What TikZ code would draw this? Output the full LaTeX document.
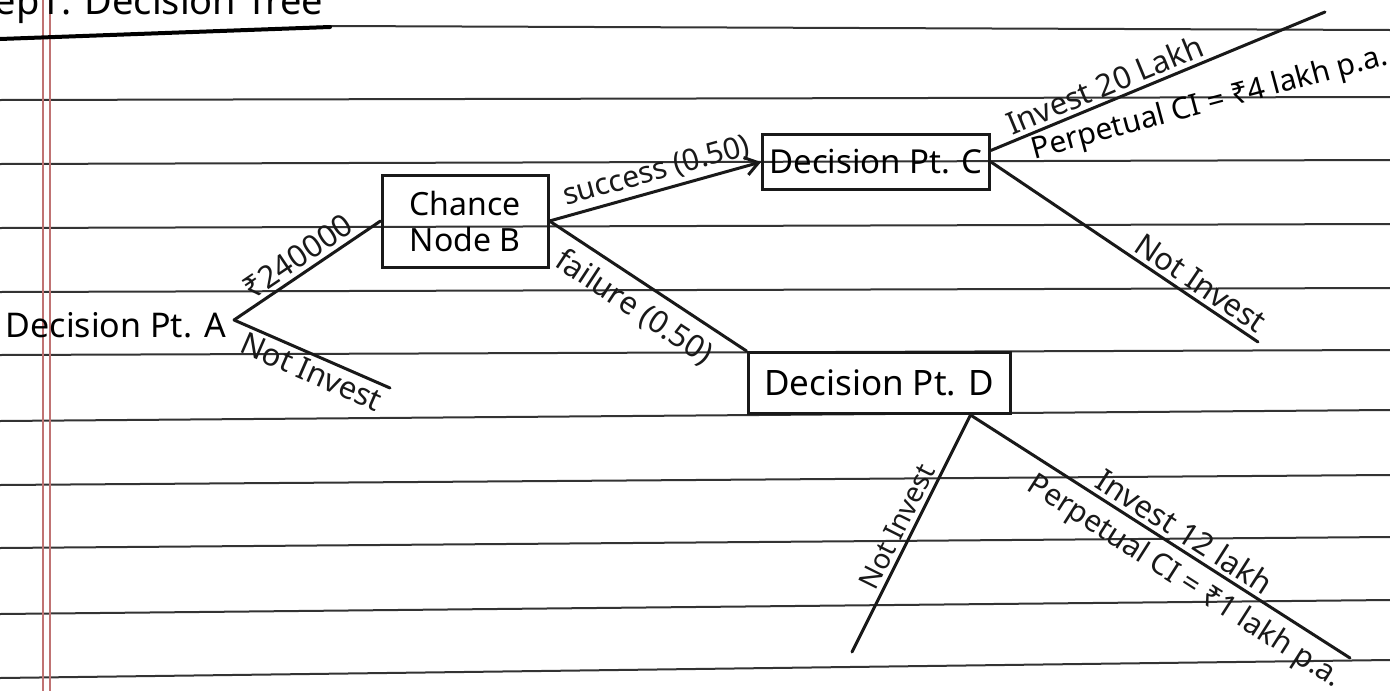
\documentclass[tikz,border=0pt]{standalone}
\usepackage{fontspec}
\setmainfont{Noto Sans}
\usetikzlibrary{arrows.meta,calc}
\begin{document}
\begin{tikzpicture}[x=1pt,y=-1pt,
 ink/.style={line width=3pt,black!90,line cap=round},
 rule/.style={line width=2pt,black!80},
 margin/.style={line width=1.3pt,red!55!black!55},
 box/.style={draw=black!90,line width=3pt,inner sep=3pt,font=\fontsize{33}{37}\selectfont},
 lbl/.style={font=\fontsize{31}{35}\selectfont,inner sep=4pt},
 ]
\useasboundingbox (0,0) rectangle (1390,691);
\clip (0,0) rectangle (1390,691);
\fill[white] (0,0) rectangle (1390,691);
% ruled paper
\foreach \l/\r in {100/97,164/160,228/224,292/288,355/350,421/410,485/475,548/537,614/600,678/660}{\draw[rule] (0,\l) -- (1390,\r);}
\draw[rule] (330,26) -- (1390,30);
\draw[margin] (43,0) -- (43,691);
\draw[margin] (50,0) -- (50,691);
% title
\node[font=\fontsize{38}{44}\selectfont,anchor=base west,inner sep=0pt] (title) at (-40,14) {Step1: Decision Tree};
\draw[line width=4pt,line cap=round] (0,39) -- (330,27);
% nodes
\node[font=\fontsize{34}{40}\selectfont,anchor=east,inner sep=2pt] (A) at (228,325) {Decision Pt. A};
\coordinate (a0) at (234,320);
\node[box,font=\fontsize{32}{36}\selectfont,minimum width=166pt,minimum height=92pt,align=center] (B) at (465,221) {Chance\\Node B};
\node[box,minimum width=227pt,minimum height=55pt] (C) at (876,162) {Decision Pt. C};
\node[box,font=\fontsize{35}{40}\selectfont,minimum width=262pt,minimum height=61pt] (D) at (879,383) {Decision Pt. D};
\coordinate (a1) at (390,388);
\coordinate (c0) at ($(C.north east)!0.3!(C.south east)$);
\coordinate (c1) at (1325,12);
\coordinate (c2) at (1258,342);
\coordinate (d0) at ([xshift=-41pt]D.south east);
\coordinate (d1) at (852,652);
\coordinate (d2) at (1350,658);
% connectors
\draw[ink] (a0) -- node[lbl,sloped,above,pos=0.5]{₹240000} (B.west);
\draw[ink] (a0) -- node[lbl,sloped,below,pos=0.54]{Not Invest} (a1);
\draw[ink,-{Straight Barb[length=13pt,width=18pt,line width=3pt]}] (B.east) -- node[lbl,font=\fontsize{30}{34}\selectfont,sloped,above,pos=0.53]{success (0.50)} (C.west);
\draw[ink] (B.east) -- node[lbl,sloped,below=6pt,pos=0.5]{failure (0.50)} (D.north west);
\draw[ink] (c0) -- node[lbl,sloped,above,pos=0.36]{Invest 20 Lakh} (c1);
\node[lbl,font=\fontsize{30}{34}\selectfont,rotate=15] (p1) at (1210,104) {Perpetual CI = ₹4 lakh p.a.};
\draw[ink] (C.east) -- node[lbl,sloped,above,pos=0.75]{Not Invest} (c2);
\draw[ink] (d0) -- node[lbl,font=\fontsize{28}{32}\selectfont,sloped,above,pos=0.5]{Not Invest} (d1);
\draw[ink] (d0) -- node[lbl,sloped,above,pos=0.54]{Invest 12 lakh} node[lbl,font=\fontsize{30}{34}\selectfont,sloped,below=5pt,pos=0.6]{Perpetual CI = ₹1 lakh p.a.} (d2);
\end{tikzpicture}
\end{document}
